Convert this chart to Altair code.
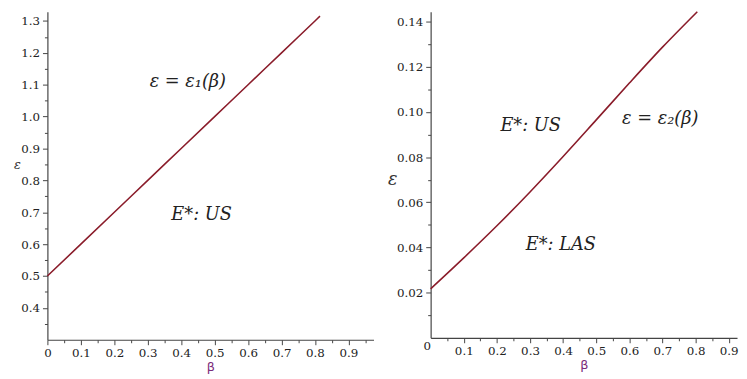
import altair as alt
import pandas as pd

# ---- data ----
beta1 = [0.0, 0.1, 0.2, 0.3, 0.4, 0.5, 0.6, 0.7, 0.8, 0.815]
eps1 = [0.5, 0.6, 0.7, 0.8, 0.9, 1.0, 1.1, 1.2, 1.3, 1.315]

beta2 = [0.0, 0.1, 0.2, 0.3, 0.4, 0.5, 0.6, 0.7, 0.805]
eps2 = [0.0217, 0.0354, 0.0496, 0.0646, 0.0803, 0.0965, 0.1128, 0.1287, 0.1444]

x_ticks = [0.0, 0.1, 0.2, 0.3, 0.4, 0.5, 0.6, 0.7, 0.8, 0.9]
x1_minor = [0.05, 0.15, 0.25, 0.35, 0.45, 0.55, 0.65, 0.75, 0.85, 0.95]
x2_minor = [0.05, 0.15, 0.25, 0.35, 0.45, 0.55, 0.65, 0.75, 0.85]
y1_ticks = [0.4, 0.5, 0.6, 0.7, 0.8, 0.9, 1.0, 1.1, 1.2, 1.3]
y1_minor = [0.35, 0.45, 0.55, 0.65, 0.75, 0.85, 0.95, 1.05, 1.15, 1.25]
y2_ticks = [0.02, 0.04, 0.06, 0.08, 0.10, 0.12, 0.14]
y2_minor = [0.01, 0.03, 0.05, 0.07, 0.09, 0.11, 0.13]

ann1_text = ["ε = ε₁(β)", "E*: US"]
ann1_x = [0.42, 0.461]
ann1_y = [1.107, 0.69]

ann2_text = ["E*: US", "ε = ε₂(β)", "E*: LAS"]
ann2_x = [0.302, 0.693, 0.393]
ann2_y = [0.0939, 0.097, 0.0411]

LINE_COLOR = "#8a1c2a"
BETA_COLOR = "#7a2a78"
SERIF = "DejaVu Serif"


def panel(bx, ey, ax, ay, at, xdom, ydom, w, h, xminor, yticks, yminor, yfmt,
          ytitle_size, ytitle_x, ytitle_y, zero_left):
    df = pd.DataFrame({"beta": bx, "eps": ey})
    ann = pd.DataFrame({"x": ax, "y": ay, "t": at})
    xs = alt.Scale(domain=xdom, nice=False, zero=False)
    ys = alt.Scale(domain=ydom, nice=False, zero=False)

    if zero_left:
        label_expr = "datum.value == 0 ? '0 ' : format(datum.value, '.1f')"
        label_align = {"condition": {"test": "datum.value == 0", "value": "right"}, "value": "center"}
        tick_size = {"condition": {"test": "datum.value == 0", "value": 0}, "value": 5}
    else:
        label_expr = "datum.value == 0 ? '0' : format(datum.value, '.1f')"
        label_align = "center"
        tick_size = 5

    major_x = alt.Axis(values=x_ticks, labelExpr=label_expr, labelAlign=label_align,
                       tickSize=tick_size, orient="bottom", title="β",
                       titleColor=BETA_COLOR, titleFont="DejaVu Sans",
                       titleFontSize=13, titleFontWeight="normal", titlePadding=2,
                       labelPadding=3, labelFont=SERIF, labelFontSize=12)
    major_y = alt.Axis(values=yticks, format=yfmt, orient="left", tickSize=5,
                       title="ε", titleAngle=0, titleFont=SERIF,
                       titleFontStyle="italic", titleFontWeight="normal",
                       titleFontSize=ytitle_size, titleColor="#333",
                       titleX=ytitle_x, titleY=ytitle_y, titleAlign="center",
                       titleBaseline="middle", labelPadding=3,
                       labelFont=SERIF, labelFontSize=12)
    minor_x = alt.Axis(values=xminor, labels=False, domain=False, tickSize=3,
                       orient="bottom", title=None)
    minor_y = alt.Axis(values=yminor, labels=False, domain=False, tickSize=3,
                       orient="left", title=None)

    minor = alt.Chart(df).mark_line(opacity=0).encode(
        x=alt.X("beta:Q", scale=xs, axis=minor_x),
        y=alt.Y("eps:Q", scale=ys, axis=minor_y),
    )
    line = alt.Chart(df).mark_line(color=LINE_COLOR, strokeWidth=1.6,
                                   interpolate="monotone").encode(
        x=alt.X("beta:Q", scale=xs, axis=major_x),
        y=alt.Y("eps:Q", scale=ys, axis=major_y),
    )
    text = alt.Chart(ann).mark_text(font=SERIF, fontStyle="italic", fontSize=18,
                                    color="#222").encode(
        x=alt.X("x:Q", scale=xs, axis=None),
        y=alt.Y("y:Q", scale=ys, axis=None),
        text="t:N",
    )
    return alt.layer(minor, line, text).resolve_axis(
        x="independent", y="independent"
    ).properties(width=w, height=h)


left = panel(beta1, eps1, ann1_x, ann1_y, ann1_text, [0, 0.975], [0.3, 1.329],
             331, 333, x1_minor, y1_ticks, y1_minor, ".1f", 13, -31, 155, False)
right = panel(beta2, eps2, ann2_x, ann2_y, ann2_text, [0, 0.925], [0, 0.1444],
              311, 331, x2_minor, y2_ticks, y2_minor, ".2f", 18, -39, 170, True)

chart = alt.hconcat(left, right, spacing=14).properties(
    padding={"left": 5, "top": -3, "right": 0, "bottom": 0}
).configure_view(stroke=None).configure_axis(
    labelColor="#222", domainColor="#444", tickColor="#444", grid=False,
    domainWidth=1.2
)

chart.save("out.html", embed_options={"renderer": "svg", "actions": False})
